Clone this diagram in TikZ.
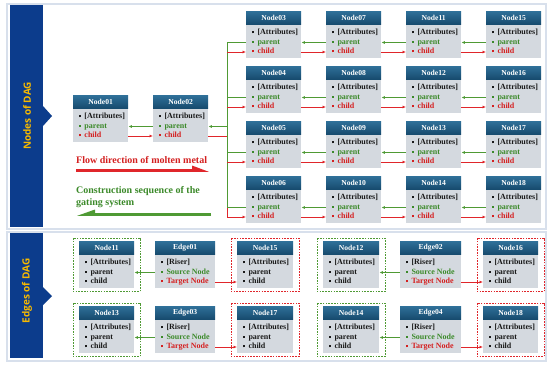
\documentclass[tikz,border=0pt]{standalone}
\usepackage{fontspec}
\setmainfont{Liberation Serif}
\newfontfamily\sidefont{Open Sans}
\usetikzlibrary{calc,arrows.meta}
\definecolor{hdtop}{HTML}{2F7099}
\definecolor{hdbot}{HTML}{174B6E}
\definecolor{bodyc}{HTML}{D4D9DF}
\definecolor{dblue}{HTML}{0C3C8C}
\definecolor{sidey}{HTML}{F7B900}
\definecolor{frame}{HTML}{D8E0EC}
\definecolor{gline}{HTML}{4F9A34}
\definecolor{rline}{HTML}{E0262B}
\definecolor{gt}{HTML}{3C8A2A}
\definecolor{rt}{HTML}{D42020}
\definecolor{tk}{HTML}{1A1A1A}
\newcommand{\bl}[2]{\textcolor{#1}{\rule[0.18em]{2pt}{2pt}\hspace{3.8pt}#2}}
\newcommand{\lnA}{\bl{tk}{[Attributes]}}
\newcommand{\lnP}{\bl{gt}{parent}}
\newcommand{\lnC}{\bl{rt}{child}}
\newcommand{\bA}{\bl{tk}{[Attributes]}}
\newcommand{\bP}{\bl{tk}{parent}}
\newcommand{\bC}{\bl{tk}{child}}
\tikzset{
  body/.style={fill=bodyc, minimum height=47pt, inner sep=0pt, anchor=north west},
  head/.style={top color=hdtop, bottom color=hdbot, minimum height=13pt, inner sep=0pt, anchor=north, text=white, font=\bfseries\fontsize{7.6}{8}\selectfont},
  ln/.style={anchor=west, inner sep=0pt, text height=5.5pt, text depth=1.7pt, font=\bfseries\fontsize{8}{8.5}\selectfont},
  gar/.style={draw=gline, line width=0.9pt, -{Latex[length=3.5pt,width=3pt]}},
  rar/.style={draw=rline, line width=0.9pt, -{Latex[length=3.5pt,width=3pt]}},
  gl/.style={draw=gline, line width=0.9pt},
  rl/.style={draw=rline, line width=0.9pt},
  gdash/.style={draw=gline, line width=0.8pt, dash pattern=on 1.6pt off 1.2pt},
  rdash/.style={draw=rline, line width=0.8pt, dash pattern=on 1.6pt off 1.2pt},
  panel/.style={draw=frame, line width=2.5pt, fill=white},
  side/.style={rotate=90, text=sidey, font=\sidefont\bfseries\fontsize{10}{12}\selectfont}
}
% name, x, y, width, title, line1, line2, line3
\newcommand{\dn}[8]{%
  \node[body, minimum width=#4pt] (#1) at (#2,#3) {};
  \node[head, minimum width=#4pt] (#1h) at (#1.north) {#5};
  \node[ln] (#1a) at ($(#1.north west)+(5.5,22)$) {#6};
  \node[ln] (#1p) at ($(#1.north west)+(5.5,31.5)$) {#7};
  \node[ln] (#1c) at ($(#1.north west)+(5.5,41)$) {#8};
}
\newcommand{\tn}[4]{\dn{#1}{#2}{#3}{55}{#4}{\lnA}{\lnP}{\lnC}}
\newcommand{\en}[5]{\dn{#1}{#2}{#3}{#4}{#5}{\bl{tk}{[Riser]}}{\bl{gt}{Source Node}}{\bl{rt}{Target Node}}}
\begin{document}
\begin{tikzpicture}[x=1pt,y=-1pt]
\useasboundingbox (0,0) rectangle (550,367);
% panels
\draw[panel] (7,4) rectangle (546,229);
\draw[panel] (7,232) rectangle (546,361);
\fill[dblue] (10,5) rectangle (43,227);
\fill[dblue] (43,106) -- (52,116) -- (43,126) -- cycle;
\fill[dblue] (10,233) rectangle (43,358);
\fill[dblue] (43,287) -- (52,296) -- (43,305) -- cycle;
\node[side] (sideN) at (27,116) {Nodes of DAG};
\node[side] (sideE) at (27,291) {Edges of DAG};
% top nodes
\tn{N01}{73}{95}{Node01}
\tn{N02}{153}{95}{Node02}
\tn{N03}{246}{11}{Node03}
\tn{N07}{326}{11}{Node07}
\tn{N11}{406}{11}{Node11}
\tn{N15}{486}{11}{Node15}
\tn{N04}{246}{66}{Node04}
\tn{N08}{326}{66}{Node08}
\tn{N12}{406}{66}{Node12}
\tn{N16}{486}{66}{Node16}
\tn{N05}{246}{121}{Node05}
\tn{N09}{326}{121}{Node09}
\tn{N13}{406}{121}{Node13}
\tn{N17}{486}{121}{Node17}
\tn{N06}{246}{176}{Node06}
\tn{N10}{326}{176}{Node10}
\tn{N14}{406}{176}{Node14}
\tn{N18}{486}{176}{Node18}
% Node01 - Node02
\draw[gar] (N02.west |- N02p) -- (N01.east |- N02p);
\draw[rar] (N01.east |- N01c) -- (N02.west |- N01c);
% trunk
\coordinate (trk) at (227,0);
\draw[rl] (N02.east |- N02c) -- (trk |- N02c);
\draw[rl] (trk |- N03c) -- (trk |- N06c);
\draw[gl] (trk |- N03p) -- (trk |- N06p);
\draw[gar] (trk |- N02p) -- (N02.east |- N02p);
\foreach \n in {N03,N04,N05,N06}{
  \draw[gl] (\n.west |- \n p) -- (trk |- \n p);
  \draw[rar] (trk |- \n c) -- (\n.west |- \n c);
}
\foreach \a/\b in {N03/N07,N07/N11,N11/N15,N04/N08,N08/N12,N12/N16,N05/N09,N09/N13,N13/N17,N06/N10,N10/N14,N14/N18}{
  \draw[gar] (\b.west |- \b p) -- (\a.east |- \b p);
  \draw[rar] (\a.east |- \a c) -- (\b.west |- \a c);
}
% flow arrows
\node[anchor=west, inner sep=0pt, text=rt, font=\bfseries\fontsize{10}{11.5}\selectfont] (flowT) at (76,160) {Flow direction of molten metal};
\coordinate (fa1) at (76,170.6);
\coordinate (fa2) at (201,170.6);
\draw[draw=rline, line width=2.6pt] (fa1) -- (fa2);
\fill[rline] (192,165.5) -- (209,171.9) -- (192,171.9) -- cycle;
\node[anchor=north west, inner sep=0pt, align=left, text=gt, font=\bfseries\fontsize{10}{11.5}\selectfont] (consT) at (76,186.5) {Construction sequence of the\\gating system};
\coordinate (ca1) at (211,214.6);
\coordinate (ca2) at (86,214.6);
\draw[draw=gline, line width=2.6pt] (ca1) -- (ca2);
\fill[gline] (95,209.5) -- (77,215.9) -- (95,215.9) -- cycle;
% bottom panel
\dn{B11}{79}{241}{55}{Node11}{\bA}{\bP}{\bC}
\en{E01}{155}{241}{60}{Edge01}
\dn{B15}{237}{241}{56}{Node15}{\bA}{\bP}{\bC}
\dn{B12}{323}{241}{56}{Node12}{\bA}{\bP}{\bC}
\en{E02}{400}{241}{61}{Edge02}
\dn{B16}{483}{241}{55}{Node16}{\bA}{\bP}{\bC}
\dn{B13}{79}{306}{55}{Node13}{\bA}{\bP}{\bC}
\en{E03}{155}{306}{60}{Edge03}
\dn{B17}{237}{306}{56}{Node17}{\bA}{\bP}{\bC}
\dn{B14}{323}{306}{56}{Node14}{\bA}{\bP}{\bC}
\en{E04}{400}{306}{61}{Edge04}
\dn{B18}{483}{306}{55}{Node18}{\bA}{\bP}{\bC}
\foreach \s in {B11,B12,B13,B14}{
  \draw[gdash] ($(\s.north west)+(-6,-3)$) rectangle ($(\s.south east)+(5.5,3)$);
}
\foreach \s in {B15,B16,B17,B18}{
  \draw[rdash] ($(\s.north west)+(-6,-3)$) rectangle ($(\s.south east)+(5.5,3)$);
}
\foreach \e/\s/\t in {E01/B11/B15,E02/B12/B16,E03/B13/B17,E04/B14/B18}{
  \draw[gar] (\e.west |- \e p) -- (\s.east |- \e p);
  \draw[rar] (\e.east |- \e c) -- (\t.west |- \e c);
}
\end{tikzpicture}
\end{document}
